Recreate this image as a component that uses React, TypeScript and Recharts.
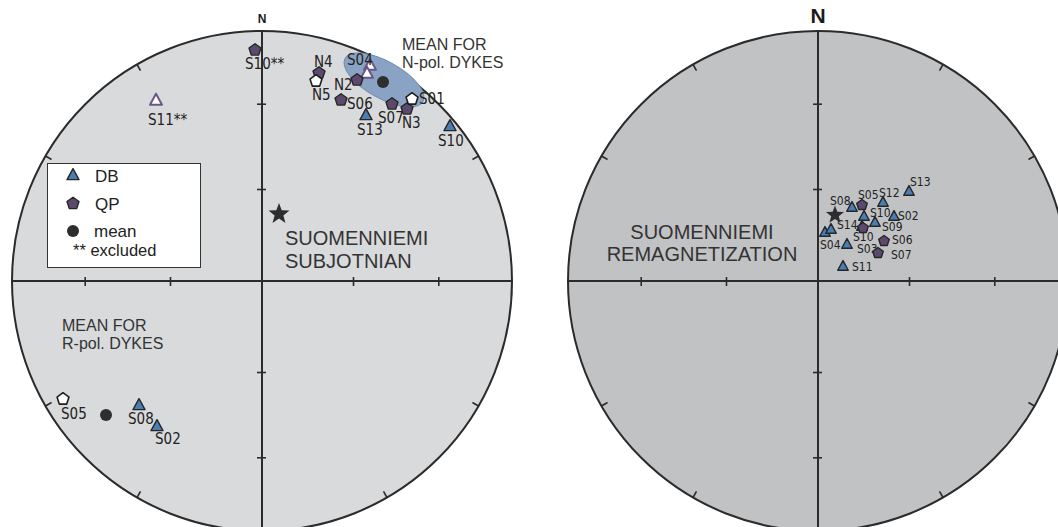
import { ScatterChart, Scatter, XAxis, YAxis, Legend } from 'recharts';

type Site = { site: string; x: number; y: number; spec?: number };
type Offsets = Record<string, [number, number]>;

// Directions are in equal-area net units: x = east, y = north, rim = 1.

// Suomenniemi subjotnian dykes
const SUB_DB: Site[] = [
  { site: 'S13', x: 0.416, y: 0.66 },
  { site: 'S10', x: 0.752, y: 0.616 },
  { site: 'S08', x: -0.492, y: -0.5 },
  { site: 'S02', x: -0.42, y: -0.584 },
];
const SUB_DB_UP: Site[] = [
  { site: 'S04', x: 0.432, y: 0.86, spec: 1 },
  { site: 'S04', x: 0.42, y: 0.828, spec: 2 },
  { site: 'S11**', x: -0.424, y: 0.72 },
];
const SUB_QP: Site[] = [
  { site: 'S10**', x: -0.028, y: 0.924 },
  { site: 'N4', x: 0.228, y: 0.832 },
  { site: 'N2', x: 0.38, y: 0.804 },
  { site: 'S06', x: 0.316, y: 0.724 },
  { site: 'S07', x: 0.52, y: 0.708 },
  { site: 'N3', x: 0.58, y: 0.688 },
];
const SUB_QP_UP: Site[] = [
  { site: 'N5', x: 0.216, y: 0.8 },
  { site: 'S01', x: 0.6, y: 0.728 },
  { site: 'S05', x: -0.796, y: -0.472 },
];
const SUB_MEANS: Site[] = [
  { site: 'N-pol', x: 0.484, y: 0.796 },
  { site: 'R-pol', x: -0.624, y: -0.536 },
];
// a95 cone of the normal-polarity mean (semi-axes in net units, tilt in degrees)
const SUB_CONES = [{ x: 0.488, y: 0.804, a: 0.178, b: 0.074, tilt: 29 }];
const SUB_POLE: Site[] = [{ site: 'SUBJOTNIAN', x: 0.068, y: 0.268 }];

// Suomenniemi remagnetization
const REM_DB: Site[] = [
  { site: 'S13', x: 0.364, y: 0.356 },
  { site: 'S12', x: 0.26, y: 0.312 },
  { site: 'S08', x: 0.136, y: 0.292 },
  { site: 'S10', x: 0.184, y: 0.256 },
  { site: 'S02', x: 0.304, y: 0.256 },
  { site: 'S09', x: 0.228, y: 0.232 },
  { site: 'S14', x: 0.176, y: 0.216 },
  { site: 'S04', x: 0.028, y: 0.192, spec: 1 },
  { site: 'S04', x: 0.052, y: 0.204, spec: 2 },
  { site: 'S03', x: 0.116, y: 0.144 },
  { site: 'S11', x: 0.1, y: 0.056 },
];
const REM_QP: Site[] = [
  { site: 'S05', x: 0.176, y: 0.304 },
  { site: 'S10', x: 0.18, y: 0.212 },
  { site: 'S06', x: 0.264, y: 0.16 },
  { site: 'S07', x: 0.24, y: 0.112 },
];
const REM_POLE: Site[] = [{ site: 'REMAGNETIZATION', x: 0.068, y: 0.264 }];

// net furniture: inclination ticks on the axes, azimuth ticks on the rim
const AXIS_TICK_INC = [30, 60];
const RIM_TICK_AZ = [30, 60, 120, 150, 210, 240, 300, 330];

const LEGEND_ITEMS = [
  { kind: 'db', label: 'DB' },
  { kind: 'qp', label: 'QP' },
  { kind: 'mean', label: 'mean' },
];
const LEGEND_NOTE = '** excluded';

// ---- layout ----
const NET_R = 250;
const NET_TOP = 31;
const NET_PAD = 12;
const CHART_W = 530;
const CHART_H = 560;

const LABEL_FONT = "'Liberation Sans Narrow', 'DejaVu Sans Condensed', 'Liberation Sans', sans-serif";
const TEXT_FONT = "'Liberation Sans', Arial, sans-serif";
const INK = '#2b2b2b';

// label offsets (px from the symbol centre to the text baseline start)
const SUB_LABEL_DB: Offsets = { S13: [-9, 19], S10: [-12, 19], S08: [-11, 18], S02: [-2, 17] };
const SUB_LABEL_DB_UP: Offsets = { S04: [-23, -1], 'S11**': [-8, 24] };
const SUB_LABEL_QP: Offsets = {
  'S10**': [-10, 19], N4: [-5, -6], N2: [-23, 10], S06: [6, 9], S07: [-14, 19], N3: [-5, 19],
};
const SUB_LABEL_QP_UP: Offsets = { N5: [-4, 19], S01: [7, 5], S05: [-2, 20] };

const REM_LABEL_DB: Offsets = {
  S13: [1, -6], S12: [-4, -6], S08: [-22, -3], S10: [6, 0], S02: [4, 3], S09: [7, 8],
  S14: [-25, 2], S04: [-5, 16], S03: [10, 8], S11: [9, 4],
};
const REM_LABEL_QP: Offsets = { S05: [-4, -6], S10: [-10, 13], S06: [8, 3], S07: [13, 6] };

const SUB_NOTES = [
  { x: 0.092, y: 0.144, lines: ['SUOMENNIEMI', 'SUBJOTNIAN'], size: 20, gap: 23, anchor: 'start' },
  { x: 0.56, y: 0.924, lines: ['MEAN FOR', 'N-pol. DYKES'], size: 16, gap: 18, anchor: 'start' },
  { x: -0.8, y: -0.2, lines: ['MEAN FOR', 'R-pol. DYKES'], size: 16, gap: 18, anchor: 'start' },
];
const REM_NOTES = [
  { x: -0.464, y: 0.168, lines: ['SUOMENNIEMI', 'REMAGNETIZATION'], size: 20, gap: 22, anchor: 'middle' },
];

const MARK: Record<string, { fill: string; stroke: string; sw: number }> = {
  db: { fill: '#4a7db1', stroke: '#262626', sw: 1.4 },
  dbUp: { fill: '#ffffff', stroke: '#6b5787', sw: 2 },
  qp: { fill: '#5b4a6d', stroke: '#262626', sw: 1.4 },
  qpUp: { fill: '#ffffff', stroke: '#1e1e1e', sw: 1.6 },
  mean: { fill: '#2e2e2e', stroke: '#2e2e2e', sw: 0 },
};

const rad = (d: number) => (d * Math.PI) / 180;
const eqArea = (inc: number) => Math.SQRT2 * Math.sin(rad((90 - inc) / 2));

const NET_CENTER = [{ x: 0, y: 0 }];
const TICKS = [
  ...AXIS_TICK_INC.flatMap((inc) => {
    const r = eqArea(inc);
    return [
      { x: r, y: 0, dir: 'h', az: 0 },
      { x: -r, y: 0, dir: 'h', az: 0 },
      { x: 0, y: r, dir: 'v', az: 0 },
      { x: 0, y: -r, dir: 'v', az: 0 },
    ];
  }),
  ...RIM_TICK_AZ.map((az) => ({ x: Math.sin(rad(az)), y: Math.cos(rad(az)), dir: 'rim', az })),
];

function trianglePath(cx: number, cy: number, w: number, h: number) {
  return `M${cx},${cy - (2 * h) / 3}L${cx + w},${cy + h / 3}L${cx - w},${cy + h / 3}Z`;
}

function pentagonPath(cx: number, cy: number, r: number) {
  const pts = [0, 1, 2, 3, 4].map((k) => {
    const a = rad(-90 + 72 * k);
    return `${cx + r * Math.cos(a)},${cy + r * Math.sin(a)}`;
  });
  return `M${pts.join('L')}Z`;
}

function starPath(cx: number, cy: number, ro: number, ri: number) {
  const pts = Array.from({ length: 10 }, (_, k) => {
    const a = rad(-90 + 36 * k);
    const r = k % 2 === 0 ? ro : ri;
    return `${cx + r * Math.cos(a)},${cy + r * Math.sin(a)}`;
  });
  return `M${pts.join('L')}Z`;
}

function Symbol({ kind, cx, cy, scale }: { kind: string; cx: number; cy: number; scale: number }) {
  const st = MARK[kind];
  if (kind === 'db' || kind === 'dbUp') {
    return <path d={trianglePath(cx, cy, 6 * scale, 11 * scale)} fill={st.fill} stroke={st.stroke} strokeWidth={st.sw} strokeLinejoin="round" />;
  }
  if (kind === 'qp' || kind === 'qpUp') {
    return <path d={pentagonPath(cx, cy, 6.3 * scale)} fill={st.fill} stroke={st.stroke} strokeWidth={st.sw} strokeLinejoin="round" />;
  }
  return <circle cx={cx} cy={cy} r={6 * scale} fill={st.fill} />;
}

function siteShape(kind: string, labels: Offsets, scale: number, fontSize: number) {
  return (props: any) => {
    const { cx, cy, payload } = props;
    const off = labels[payload.site];
    const showLabel = off && (payload.spec ?? 1) === 1;
    return (
      <g>
        <Symbol kind={kind} cx={cx} cy={cy} scale={scale} />
        {showLabel && (
          <text x={cx + off[0]} y={cy + off[1]} fontSize={fontSize} fontFamily={LABEL_FONT} fill="#222">
            {payload.site}
          </text>
        )}
      </g>
    );
  };
}

function frameShape(fill: string, nSize: number) {
  return (props: any) => {
    const { cx, cy } = props;
    return (
      <g>
        <circle cx={cx} cy={cy} r={NET_R} fill={fill} stroke={INK} strokeWidth={2} />
        <line x1={cx - NET_R} y1={cy} x2={cx + NET_R} y2={cy} stroke={INK} strokeWidth={2} />
        <line x1={cx} y1={cy - NET_R} x2={cx} y2={cy + NET_R} stroke={INK} strokeWidth={2} />
        <text x={cx} y={cy - NET_R - 8} textAnchor="middle" fontSize={nSize} fontWeight="bold" fontFamily={TEXT_FONT} fill="#1a1a1a">
          N
        </text>
      </g>
    );
  };
}

const tickShape = (props: any) => {
  const { cx, cy, payload } = props;
  if (payload.dir === 'h') return <line x1={cx} y1={cy - 4} x2={cx} y2={cy + 5} stroke={INK} strokeWidth={1.6} />;
  if (payload.dir === 'v') return <line x1={cx - 5} y1={cy} x2={cx + 4} y2={cy} stroke={INK} strokeWidth={1.6} />;
  const a = rad(payload.az);
  return <line x1={cx} y1={cy} x2={cx - 7 * Math.sin(a)} y2={cy + 7 * Math.cos(a)} stroke={INK} strokeWidth={1.6} />;
};

const coneShape = (props: any) => {
  const { cx, cy, payload } = props;
  return (
    <ellipse
      cx={cx}
      cy={cy}
      rx={payload.a * NET_R}
      ry={payload.b * NET_R}
      transform={`rotate(${payload.tilt} ${cx} ${cy})`}
      fill="#8aa3c4"
      stroke="#6f8cb2"
      strokeWidth={1}
    />
  );
};

function poleShape(ro: number) {
  return (props: any) => <path d={starPath(props.cx, props.cy, ro, ro * 0.42)} fill="#2d2d2d" />;
}

const noteShape = (props: any) => {
  const { cx, cy, payload } = props;
  return (
    <text x={cx} y={cy} fontSize={payload.size} fontFamily={TEXT_FONT} fill="#333" textAnchor={payload.anchor}>
      {payload.lines.map((ln: string, i: number) => (
        <tspan key={ln} x={cx} y={cy + i * payload.gap}>
          {ln}
        </tspan>
      ))}
    </text>
  );
};

const LegendBox = () => (
  <svg width={154} height={105} style={{ display: 'block' }}>
    <rect x={0.5} y={0.5} width={153} height={104} fill="#fff" stroke="#333" strokeWidth={1} />
    {LEGEND_ITEMS.map((it, i) => (
      <g key={it.label}>
        <Symbol kind={it.kind} cx={26} cy={13 + i * 27.5} scale={1} />
        <text x={i === 2 ? 47 : 48} y={19 + i * 27.5} fontSize={17} fontFamily={TEXT_FONT} fill="#222">
          {it.label}
        </text>
      </g>
    ))}
    <text x={26} y={93} fontSize={16.5} fontFamily={TEXT_FONT} fill="#222">
      {LEGEND_NOTE}
    </text>
  </svg>
);

type Group = { data: Site[]; kind: string; labels: Offsets };
type NetProps = {
  left: number;
  fill: string;
  nSize: number;
  scale: number;
  labelSize: number;
  groups: Group[];
  means?: Site[];
  cones?: typeof SUB_CONES;
  pole: Site[];
  poleSize: number;
  notes: typeof SUB_NOTES;
  legend?: boolean;
};

function Net({ left, fill, nSize, scale, labelSize, groups, means, cones, pole, poleSize, notes, legend }: NetProps) {
  const margin = {
    top: NET_TOP,
    left: NET_PAD,
    right: CHART_W - NET_PAD - 2 * NET_R,
    bottom: CHART_H - NET_TOP - 2 * NET_R,
  };
  return (
    <div style={{ position: 'absolute', left, top: 0 }}>
      <ScatterChart width={CHART_W} height={CHART_H} margin={margin}>
        <XAxis type="number" dataKey="x" domain={[-1, 1]} hide />
        <YAxis type="number" dataKey="y" domain={[-1, 1]} hide />
        <Scatter data={NET_CENTER} shape={frameShape(fill, nSize)} isAnimationActive={false} />
        <Scatter data={TICKS} shape={tickShape} isAnimationActive={false} />
        {cones && <Scatter data={cones} shape={coneShape} isAnimationActive={false} />}
        <Scatter data={notes} shape={noteShape} isAnimationActive={false} />
        {groups.map((g, i) => (
          <Scatter key={i} data={g.data} shape={siteShape(g.kind, g.labels, scale, labelSize)} isAnimationActive={false} />
        ))}
        {means && <Scatter data={means} shape={siteShape('mean', {}, scale, labelSize)} isAnimationActive={false} />}
        <Scatter data={pole} shape={poleShape(poleSize)} isAnimationActive={false} />
        {legend && (
          <Legend
            layout="vertical"
            align="center"
            verticalAlign="middle"
            wrapperStyle={{ left: 47, top: 163, width: 154, height: 105 }}
            content={() => <LegendBox />}
          />
        )}
      </ScatterChart>
    </div>
  );
}

export default function App() {
  return (
    <div
      style={{
        position: 'absolute',
        left: 0,
        top: 0,
        width: 1058,
        height: 527,
        overflow: 'hidden',
        background: '#ffffff',
      }}
    >
      <Net
        left={0}
        fill="#d9dadc"
        nSize={12}
        scale={1}
        labelSize={15}
        groups={[
          { data: SUB_DB, kind: 'db', labels: SUB_LABEL_DB },
          { data: SUB_DB_UP, kind: 'dbUp', labels: SUB_LABEL_DB_UP },
          { data: SUB_QP, kind: 'qp', labels: SUB_LABEL_QP },
          { data: SUB_QP_UP, kind: 'qpUp', labels: SUB_LABEL_QP_UP },
        ]}
        means={SUB_MEANS}
        cones={SUB_CONES}
        pole={SUB_POLE}
        poleSize={11}
        notes={SUB_NOTES}
        legend
      />
      <Net
        left={556}
        fill="#c1c2c4"
        nSize={21}
        scale={0.88}
        labelSize={12}
        groups={[
          { data: REM_DB, kind: 'db', labels: REM_LABEL_DB },
          { data: REM_QP, kind: 'qp', labels: REM_LABEL_QP },
        ]}
        pole={REM_POLE}
        poleSize={9.5}
        notes={REM_NOTES}
      />
    </div>
  );
}
